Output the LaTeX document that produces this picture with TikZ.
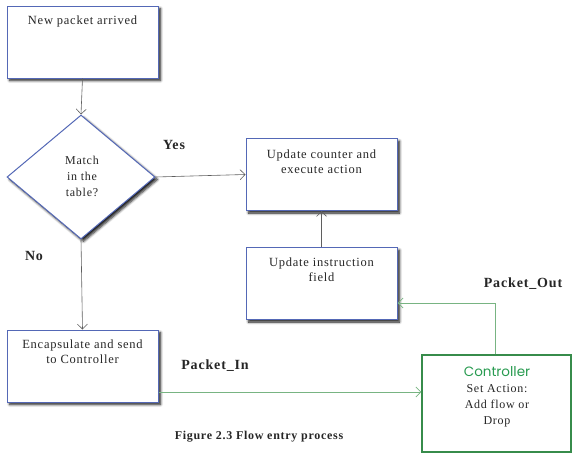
\documentclass[tikz,border=0pt]{standalone}
\usepackage{fontspec}
\setmainfont{Liberation Serif}
\newfontfamily\spaced[LetterSpace=6]{Liberation Serif}
\newfontfamily\ctrlfont{Poppins}
\usetikzlibrary{arrows.meta,shapes.geometric,shadows.blur}
\definecolor{boxblue}{RGB}{84,104,182}
\definecolor{linegray}{RGB}{95,95,95}
\definecolor{flowgreen}{RGB}{120,180,130}
\definecolor{ctrlgreen}{RGB}{55,140,75}
\definecolor{ctrltext}{RGB}{40,155,80}
\begin{document}
\begin{tikzpicture}[x=1pt,y=-1pt,
  softshadow/.style={blur shadow={shadow xshift=2.5pt,shadow yshift=-2.5pt,shadow blur radius=2.5pt,shadow blur steps=6,shadow opacity=90}},
  box/.style={draw=boxblue,line width=1pt,fill=white,
    minimum width=151pt,minimum height=72pt,inner sep=0pt,softshadow},
  boxtext/.style={font=\spaced\fontsize{12.5}{15}\selectfont,align=center,anchor=north,color=black!85},
  decision/.style={diamond,draw=boxblue,line width=1pt,fill=white,inner sep=0pt,
    minimum width=148pt,minimum height=124pt,softshadow},
  flow/.style={draw=linegray,line width=0.6pt,-{Straight Barb[length=5pt,width=10pt]}},
  greenflow/.style={draw=flowgreen,line width=0.8pt,-{Straight Barb[length=5pt,width=10pt]}},
  tag/.style={font=\spaced\fontsize{14}{16}\selectfont\bfseries,color=black!85},
]
\useasboundingbox (0,0) rectangle (572,455);

% process steps
\node[box] (arrive) at (82.5,42) {};
\node[boxtext] (arrivetxt) at (82.5,12) {New packet arrived};

\node[decision] (match) at (81,177) {};
\node[font=\spaced\fontsize{12}{16}\selectfont,align=center,color=black!85] (matchtxt) at (82,176) {Match\\in the\\table?};

\node[box] (update) at (321.5,174.5) {};
\node[boxtext] (updatetxt) at (321.5,146) {Update counter and\\execute action};

\node[box] (instr) at (321.5,283.5) {};
\node[boxtext] (instrtxt) at (321.5,254) {Update instruction\\field};

\node[box] (encap) at (82.5,366) {};
\node[boxtext] (encaptxt) at (82.5,336) {Encapsulate and send\\to Controller};

% controller
\node[draw=ctrlgreen,line width=1.2pt,fill=white,minimum width=149pt,minimum height=97pt,inner sep=0pt] (ctrl) at (496.5,403.5) {};
\node[font=\ctrlfont\fontsize{13.5}{15}\selectfont,color=ctrltext] (ctrltitle) at (497,372) {Controller};
\node[font=\spaced\fontsize{12}{16}\selectfont,align=center,color=black!85,anchor=north] (ctrltxt) at (497,381) {Set Action:\\Add flow or\\Drop};

% connectors
\draw[flow] (arrive.south) -- (match.north);
\draw[flow] (match.east) -- (update.west);
\draw[flow] (match.south) -- (encap.north);
\draw[flow] (instr.north) -- (update.south);
\coordinate (inbend) at (158,392);
\draw[greenflow] (encap.east |- inbend) -- (ctrl.west |- inbend);
\coordinate (outbend) at (495,303);
\draw[greenflow] (ctrl.north -| outbend) -- (outbend) -- (instr.east |- outbend);

% labels
\node[tag] (yes) at (174,145) {Yes};
\node[tag] (no) at (34,256) {No};
\node[tag] (pin) at (215,366) {Packet\_In};
\node[tag] (pout) at (523,284) {Packet\_Out};
\node[font=\spaced\fontsize{12}{14}\selectfont\bfseries,color=black!85] (caption) at (259,437) {Figure 2.3 Flow entry process};
\end{tikzpicture}
\end{document}
